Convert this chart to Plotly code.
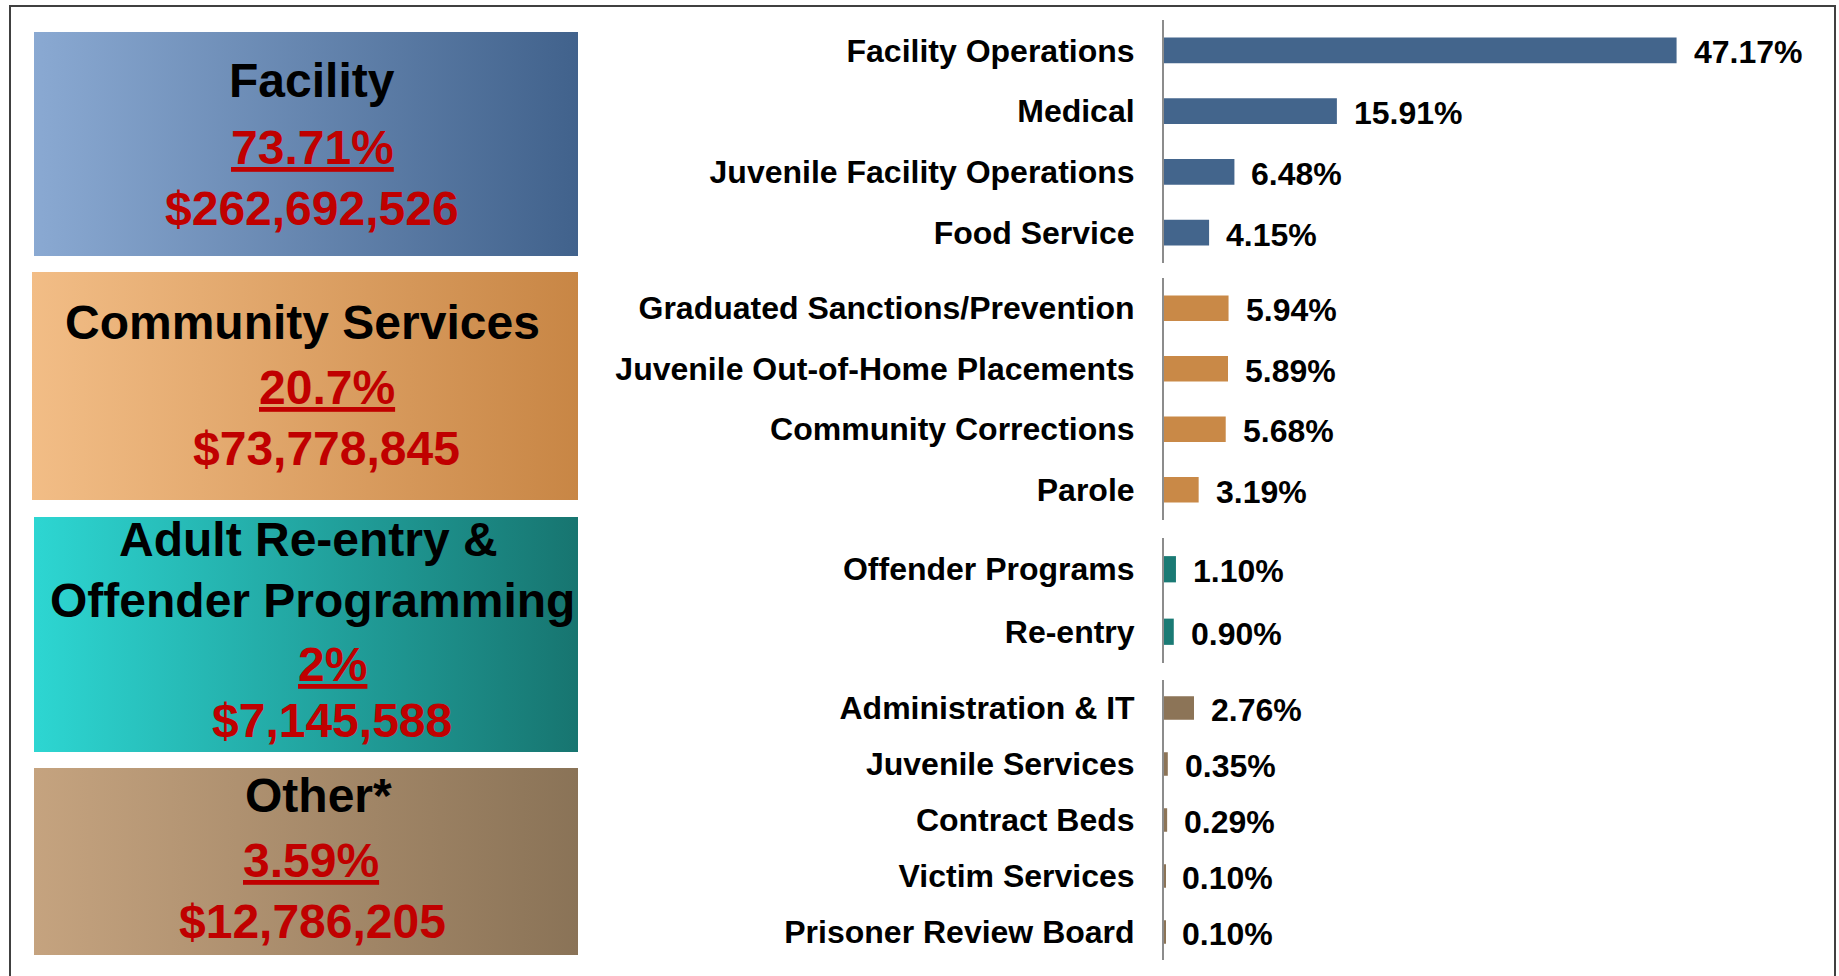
import plotly.graph_objects as go

W, H = 1839, 976

# ---------------- data ----------------
group_titles = [["Facility"], ["Community Services"], ["Adult Re-entry &", "Offender Programming"], ["Other*"]]
group_pcts = ["73.71%", "20.7%", "2%", "3.59%"]
group_amounts = ["$262,692,526", "$73,778,845", "$7,145,588", "$12,786,205"]

facility_cats = ["Facility Operations", "Medical", "Juvenile Facility Operations", "Food Service"]
facility_vals = [47.17, 15.91, 6.48, 4.15]
community_cats = ["Graduated Sanctions/Prevention", "Juvenile Out-of-Home Placements",
                  "Community Corrections", "Parole"]
community_vals = [5.94, 5.89, 5.68, 3.19]
adult_cats = ["Offender Programs", "Re-entry"]
adult_vals = [1.10, 0.90]
other_cats = ["Administration & IT", "Juvenile Services", "Contract Beds",
              "Victim Services", "Prisoner Review Board"]
other_vals = [2.76, 0.35, 0.29, 0.10, 0.10]

# ---------------- style / layout ----------------
FONT = "Liberation Sans, Arial, sans-serif"
RED = "#c00000"
bar_colors = ["#43658c", "#c98947", "#1a7a74", "#8c7457"]
panel_grad = [("#8aa9d2", "#41628c"), ("#f2bd86", "#c88645"),
              ("#2dd6d2", "#177570"), ("#c5a37f", "#8a7357")]
# panel boxes in pixels (x0, x1, y0, y1), top-down
panels = [(34, 578, 32, 256), (32, 578, 272, 500), (34, 578, 517, 752), (34, 578, 768, 955)]
# text lines per panel: list of (x_center, y_center)
title_pos = [[(312, 81)], [(302, 322)], [(308, 539), (312, 600)], [(318, 795)]]
pct_pos = [(312, 147), (327, 387), (332, 664), (311, 860)]
amt_pos = [(312, 208), (326, 449), (332, 720), (312, 921)]
# bar sub-chart vertical extents (pixels, top-down)
bar_groups = [(20, 263), (278, 520), (538, 663), (680, 960)]
X0_PX, X1_PX = 1164, 1816
X_MAX = 60.0
LABEL_SIZE = 32
PANEL_SIZE = 48


def px(x):
    return x / W


def py(y):
    return 1 - y / H


fig = go.Figure()

# gradient panels on an overlay axis in pixel units
for (x0, x1, y0, y1), (c0, c1) in zip(panels, panel_grad):
    fig.add_trace(go.Scatter(
        x=[x0, x1, x1, x0, x0], y=[y0, y0, y1, y1, y0],
        mode="lines", fill="toself", line=dict(width=0),
        fillgradient=dict(type="horizontal", colorscale=[[0, c0], [1, c1]]),
        xaxis="x5", yaxis="y5", hoverinfo="skip", showlegend=False))

groups = [(facility_cats, facility_vals), (community_cats, community_vals),
          (adult_cats, adult_vals), (other_cats, other_vals)]

annotations = []
for i, ((cats, vals), color, (gy0, gy1)) in enumerate(zip(groups, bar_colors, bar_groups)):
    n = i + 1
    xa = "x" if n == 1 else f"x{n}"
    ya = "y" if n == 1 else f"y{n}"
    fig.add_trace(go.Bar(
        x=vals, y=cats, orientation="h", width=0.42,
        marker=dict(color=color, line=dict(width=0)),
        xaxis=xa, yaxis=ya, showlegend=False,
        hovertemplate="%{y}: %{x:.2f}%<extra></extra>"))
    xkey = "xaxis" if n == 1 else f"xaxis{n}"
    ykey = "yaxis" if n == 1 else f"yaxis{n}"
    fig.update_layout(**{
        xkey: dict(domain=[px(X0_PX), px(X1_PX)], range=[0, X_MAX], anchor=ya,
                   visible=False, fixedrange=True),
        ykey: dict(domain=[py(gy1), py(gy0)], anchor=xa, type="category",
                   categoryorder="array", categoryarray=cats,
                   range=[len(cats) - 0.5, -0.5], showline=True, linecolor="#8c8c8c",
                   linewidth=2, ticks="", showgrid=False, zeroline=False,
                   ticklabelstandoff=21,
                   tickfont=dict(family=FONT, size=LABEL_SIZE, color="black", weight="bold"),
                   fixedrange=True),
    })
    for c, v in zip(cats, vals):
        annotations.append(dict(
            x=v, y=c, xref=xa, yref=ya, text=f"{v:.2f}%", showarrow=False,
            xanchor="left", yanchor="middle", xshift=15, yshift=-2,
            font=dict(family=FONT, size=LABEL_SIZE, color="black", weight="bold")))

fig.update_layout(
    xaxis5=dict(domain=[0, 1], range=[0, W], visible=False, fixedrange=True, anchor="y5"),
    yaxis5=dict(domain=[0, 1], range=[H, 0], visible=False, fixedrange=True, anchor="x5"),
)

# panel texts
for titles, tpos, pct, ppos, amt, apos in zip(group_titles, title_pos, group_pcts, pct_pos,
                                              group_amounts, amt_pos):
    for t, (x, y) in zip(titles, tpos):
        annotations.append(dict(x=px(x), y=py(y), xref="paper", yref="paper", text=t,
                                showarrow=False, xanchor="center", yanchor="middle",
                                font=dict(family=FONT, size=PANEL_SIZE, color="black",
                                          weight="bold")))
    annotations.append(dict(x=px(ppos[0]), y=py(ppos[1]), xref="paper", yref="paper",
                            text=f"<u>{pct}</u>", showarrow=False, xanchor="center",
                            yanchor="middle",
                            font=dict(family=FONT, size=PANEL_SIZE, color=RED, weight="bold")))
    annotations.append(dict(x=px(apos[0]), y=py(apos[1]), xref="paper", yref="paper",
                            text=amt, showarrow=False, xanchor="center", yanchor="middle",
                            font=dict(family=FONT, size=PANEL_SIZE, color=RED, weight="bold")))

fig.update_layout(
    width=W, height=H, margin=dict(l=0, r=0, t=0, b=0),
    paper_bgcolor="white", plot_bgcolor="rgba(0,0,0,0)",
    annotations=annotations,
    shapes=[dict(type="rect", xref="paper", yref="paper",
                 x0=px(10), x1=px(1835), y0=py(985), y1=py(6),
                 line=dict(color="#404040", width=2), fillcolor="rgba(0,0,0,0)",
                 layer="above")],
    bargap=0.6,
)

fig.write_html("out.html", config={"displayModeBar": False},
               post_script="document.body.style.margin='0';document.body.style.overflow='hidden';")
